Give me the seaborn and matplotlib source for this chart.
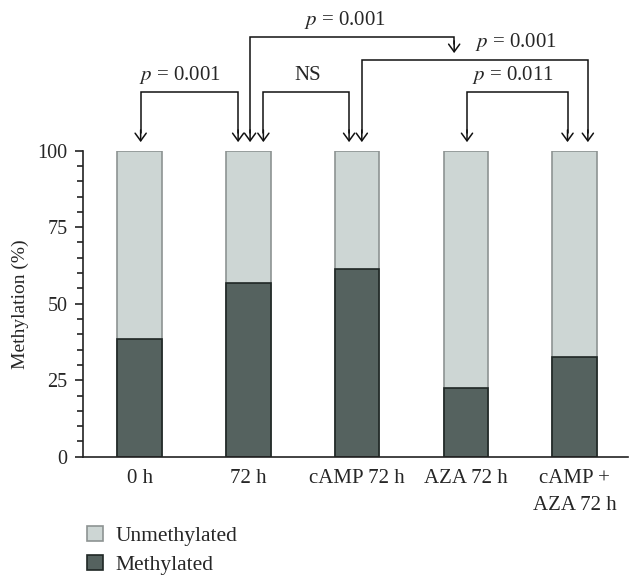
import matplotlib
matplotlib.use("Agg")
import matplotlib.pyplot as plt
import seaborn as sns
import pandas as pd
from matplotlib.patches import Patch
from matplotlib.ticker import MultipleLocator

# ---- data ----
categories = ["0 h", "72 h", "cAMP 72 h", "AZA 72 h", "cAMP +\nAZA 72 h"]
methylated = [38.4, 56.9, 61.3, 22.5, 32.7]
total = [100, 100, 100, 100, 100]
legend_labels = ["Unmethylated", "Methylated"]
y_ticks = [0, 25, 50, 75, 100]

# comparisons: (left x, right x, bracket top, label, label x, label y, right-tip y)
comparisons = [
    (0.01, 0.906, 119.2, "$p$ = 0.001", 0.372, 124.8, 102.8),
    (1.016, 2.892, 137.0, "$p$ = 0.001", 1.89, 142.8, 131.9),
    (1.138, 1.926, 119.2, "NS", 1.55, 124.6, 102.8),
    (2.043, 4.121, 129.7, "$p$ = 0.001", 3.46, 135.6, 102.8),
    (3.01, 3.934, 119.2, "$p$ = 0.011", 3.43, 124.9, 102.8),
]

sns.set_style("ticks")
plt.rcParams["font.family"] = ["Liberation Serif", "DejaVu Serif"]
plt.rcParams["mathtext.fontset"] = "stix"

light = "#cdd6d4"
light_edge = "#8d9392"
dark = "#55625f"
dark_edge = "#1f2725"

df = pd.DataFrame({"cat": categories, "total": total, "meth": methylated})

fig = plt.figure(figsize=(6.42, 5.86), dpi=100)
ax = fig.add_axes([83 / 642, 1 - 456.7 / 586, (628 - 83) / 642, (456.7 - 150.7) / 586])

sns.barplot(data=df, x="cat", y="total", color=light, edgecolor=light_edge,
            linewidth=1.2, width=0.41, saturation=1, ax=ax)
sns.barplot(data=df, x="cat", y="meth", color=dark, edgecolor=dark_edge,
            linewidth=1.2, width=0.41, saturation=1, ax=ax)

ax.set_xlim(-0.52, 4.49)
ax.set_ylim(0, 100)
ax.set_yticks(y_ticks)
ax.yaxis.set_minor_locator(MultipleLocator(5))
ax.tick_params(axis="y", which="major", length=6, width=1.2, labelsize=14.5, pad=5, color="#222")
ax.tick_params(axis="y", which="minor", length=4, width=1.2, color="#222")
ax.tick_params(axis="x", length=0, labelsize=15, pad=9)
for t in ax.get_xticklabels():
    t.set_linespacing(1.55)
ax.set_xlabel("")
ax.set_ylabel("Methylation (%)", fontsize=14, labelpad=6)
sns.despine(ax=ax)
for s in ["left", "bottom"]:
    ax.spines[s].set_linewidth(1.2)
    ax.spines[s].set_color("#222")

lw = 1.1
arrow = dict(arrowstyle="->,head_length=0.55,head_width=0.4", lw=lw, color="#111",
             shrinkA=0, shrinkB=0)
tip = 102.8
for x1, x2, top, lab, lx, ly, rtip in comparisons:
    ax.plot([x1, x1, x2, x2], [tip + 3, top, top, rtip + 3], color="#111", lw=lw,
            clip_on=False, solid_joinstyle="miter")
    ax.annotate("", xy=(x1, tip), xytext=(x1, tip + 4), arrowprops=arrow,
                annotation_clip=False)
    ax.annotate("", xy=(x2, rtip), xytext=(x2, rtip + 4), arrowprops=arrow,
                annotation_clip=False)
    ax.text(lx, ly, lab, ha="center", va="center", fontsize=15, clip_on=False)

handles = [Patch(facecolor=light, edgecolor=light_edge, lw=1.2),
           Patch(facecolor=dark, edgecolor=dark_edge, lw=1.2)]
fig.legend(handles, legend_labels, loc="upper left", bbox_to_anchor=(78 / 642, 1 - 517 / 586),
           frameon=False, fontsize=15.5, handlelength=0.75, handleheight=0.75,
           handletextpad=0.6, labelspacing=0.4, borderaxespad=0)

fig.savefig("out.png", dpi=100)
